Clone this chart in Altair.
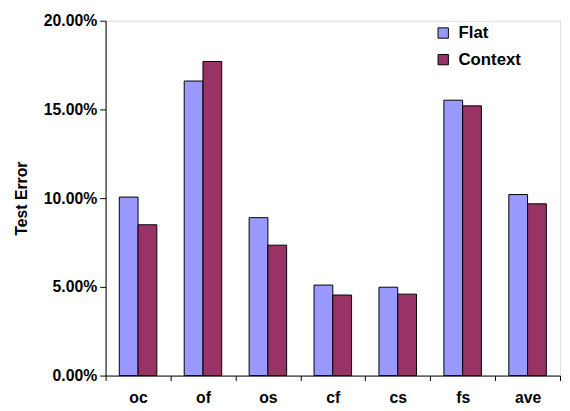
import altair as alt
import pandas as pd

categories = ["oc", "of", "os", "cf", "cs", "fs", "ave"]
series = ["Flat", "Context"]
flat = [0.1006, 0.1660, 0.0890, 0.0510, 0.0498, 0.1552, 0.1020]
context = [0.0850, 0.1770, 0.0735, 0.0454, 0.0459, 0.1520, 0.0968]
y_ticks = [0.0, 0.05, 0.10, 0.15, 0.20]
colors = ["#9999FF", "#993366"]

rows = []
for c, f, k in zip(categories, flat, context):
    rows.append({"cat": c, "series": "Flat", "value": f})
    rows.append({"cat": c, "series": "Context", "value": k})
df = pd.DataFrame(rows)

FONT = "Liberation Sans"

chart = alt.Chart(df).mark_bar(stroke="black", strokeWidth=1).encode(
    x=alt.X("cat:N", sort=categories,
            scale=alt.Scale(paddingInner=0, paddingOuter=0),
            axis=alt.Axis(title=None, labelAngle=0, tickBand="extent",
                          labelFont=FONT, labelFontSize=16, labelFontWeight="bold",
                          labelColor="black", domainColor="black", tickColor="black",
                          tickSize=5, labelPadding=9, grid=False)),
    xOffset=alt.XOffset("series:N", sort=series,
                        scale=alt.Scale(paddingInner=0, paddingOuter=0.73)),
    y=alt.Y("value:Q", scale=alt.Scale(domain=[0, 0.2], nice=False),
            axis=alt.Axis(title="Test Error", values=y_ticks, format=".2%",
                          labelFont=FONT, labelFontSize=16, labelFontWeight="bold",
                          labelColor="black", titleFont=FONT, titleFontSize=16,
                          titleFontWeight="bold", titleColor="black",
                          domainColor="black", tickColor="black", tickSize=6,
                          labelPadding=3, titlePadding=14, grid=False)),
    color=alt.Color("series:N", sort=series,
                    scale=alt.Scale(domain=series, range=colors),
                    legend=alt.Legend(title=None, orient="none", legendX=334, legendY=4,
                                      symbolType="square", symbolSize=110,
                                      symbolStrokeColor="black", symbolStrokeWidth=1,
                                      labelFont=FONT, labelFontSize=17, labelFontWeight="bold",
                                      labelColor="black", rowPadding=9, labelOffset=7)),
).properties(
    width=461, height=360,
    padding={"left": 99, "top": 10, "right": 2, "bottom": 30},
    autosize=alt.AutoSizeParams(type="none"),
).configure_view(stroke=None).configure(background="white")

chart.save("out.html", embed_options={"renderer": "svg", "actions": False})
